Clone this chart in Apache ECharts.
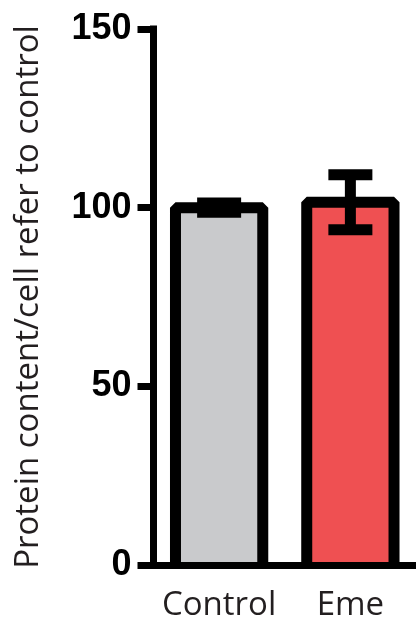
<!DOCTYPE html>
<html>
<head>
<meta charset="utf-8">
<script src="https://cdn.jsdelivr.net/npm/echarts@6/dist/echarts.min.js"></script>
<style>
  html, body { margin: 0; padding: 0; background: #ffffff; }
  #chart { width: 416px; height: 625px; }
</style>
</head>
<body>
<div id="chart"></div>
<script>
// Group names, means and error (SEM) per group
const categories = ['Control', 'Eme'];
const means = [100, 101.5];
const errors = [1.3, 7.7];
const barColors = ['#c9cacc', '#ef5052'];
const yTicks = [0, 50, 100, 150];

const chart = echarts.init(document.getElementById('chart'));

const barData = means.map((v, i) => [i, v]);
const errorData = means.map((v, i) => [i, v - errors[i], v + errors[i]]);

// Filled bar with a thick outline on the left, top and right sides;
// the bottom edge sits on the category axis.
function renderBar(params, api) {
  const idx = api.value(0);
  const top = api.coord([idx, api.value(1)]);
  const base = api.coord([idx, 0]);
  const w = api.size([1, 0])[0] * 0.665;
  const x0 = top[0] - w / 2;
  const x1 = top[0] + w / 2;
  return {
    type: 'group',
    children: [
      {
        type: 'rect',
        shape: { x: x0, y: top[1], width: w, height: base[1] - top[1] },
        style: { fill: barColors[idx] }
      },
      {
        type: 'polyline',
        shape: { points: [[x0, base[1]], [x0, top[1]], [x1, top[1]], [x1, base[1]]] },
        style: { stroke: '#000', lineWidth: 11, fill: null, lineJoin: 'bevel' }
      }
    ]
  };
}

function renderErrorBar(params, api) {
  const x = api.value(0);
  const low = api.coord([x, api.value(1)]);
  const high = api.coord([x, api.value(2)]);
  const capHalf = 22;
  const style = { stroke: '#000', lineWidth: 11, fill: null, lineCap: 'butt' };
  return {
    type: 'group',
    children: [
      { type: 'line', shape: { x1: high[0], y1: high[1], x2: low[0], y2: low[1] }, style },
      { type: 'line', shape: { x1: high[0] - capHalf, y1: high[1], x2: high[0] + capHalf, y2: high[1] }, style },
      { type: 'line', shape: { x1: low[0] - capHalf, y1: low[1], x2: low[0] + capHalf, y2: low[1] }, style }
    ]
  };
}

chart.setOption({
  animation: false,
  backgroundColor: '#ffffff',
  grid: { left: 153.5, top: 29, width: 264, bottom: 60, containLabel: false },
  xAxis: {
    type: 'category',
    data: categories,
    z: 5,
    axisLine: { lineStyle: { color: '#000', width: 7, cap: 'square' } },
    axisTick: { show: false },
    axisLabel: {
      interval: 0,
      hideOverlap: false,
      color: '#231f20',
      fontFamily: 'Open Sans',
      fontSize: 33,
      margin: 24
    }
  },
  yAxis: {
    type: 'value',
    min: yTicks[0],
    max: yTicks[yTicks.length - 1],
    interval: 50,
    name: 'Protein content/cell refer to control',
    nameLocation: 'middle',
    nameGap: 108,
    nameTextStyle: {
      color: '#231f20',
      fontFamily: 'Open Sans',
      fontSize: 33
    },
    z: 5,
    axisLine: { show: true, lineStyle: { color: '#000', width: 7, cap: 'square' } },
    axisTick: { show: true, length: 16, lineStyle: { color: '#000', width: 7 } },
    splitLine: { show: false },
    axisLabel: {
      color: '#000',
      fontFamily: 'Liberation Sans',
      fontWeight: 'bold',
      fontSize: 36,
      margin: 22
    }
  },
  series: [
    {
      type: 'custom',
      data: barData,
      renderItem: renderBar,
      z: 2
    },
    {
      type: 'custom',
      data: errorData,
      renderItem: renderErrorBar,
      z: 3
    }
  ]
});
</script>
</body>
</html>
